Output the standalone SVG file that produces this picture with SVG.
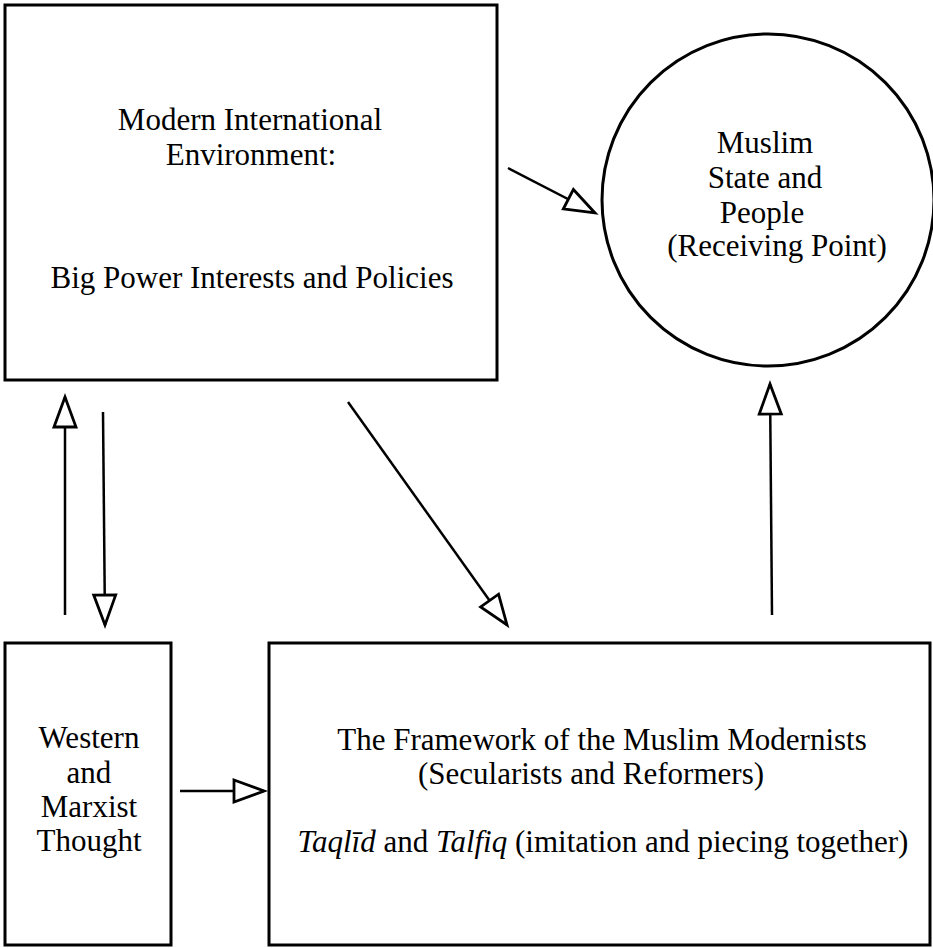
<svg xmlns="http://www.w3.org/2000/svg" width="933" height="948" viewBox="0 0 933 948">
<style>
.box{fill:none;stroke:#000;stroke-width:3}
.conn{fill:none;stroke:#000;stroke-width:2.5}
text{font-family:"Liberation Serif","Times New Roman",serif;font-size:31px;fill:#000;text-anchor:middle}
.it{font-style:italic}
</style>
<defs>
<marker id="open" markerUnits="userSpaceOnUse" markerWidth="36" markerHeight="30" viewBox="0 0 36 30" refX="33" refY="15" orient="auto" overflow="visible">
<path d="M3,4 L33,15 L3,26 Z" fill="#fff" stroke="#000" stroke-width="2.8" stroke-linejoin="miter"/>
</marker>
</defs>
<rect width="933" height="948" fill="#fff"/>
<g id="environment">
<rect class="box" x="5" y="5" width="492" height="375"/>
<text x="250" y="130">Modern International</text>
<text x="251" y="165">Environment:</text>
<text x="252" y="288">Big Power Interests and Policies</text>
</g>
<g id="muslim-state">
<circle class="box" cx="768" cy="200" r="166" stroke-width="2.5"/>
<text x="765" y="153">Muslim</text>
<text x="765" y="188">State and</text>
<text x="762" y="223">People</text>
<text x="777" y="256">(Receiving Point)</text>
</g>
<g id="western-thought">
<rect class="box" x="5" y="643" width="166" height="302"/>
<text x="89" y="748">Western</text>
<text x="89" y="783">and</text>
<text x="89" y="817">Marxist</text>
<text x="89" y="851">Thought</text>
</g>
<g id="modernists">
<rect class="box" x="269" y="643" width="661" height="302"/>
<text x="602" y="750">The Framework of the Muslim Modernists</text>
<text x="591" y="784">(Secularists and Reformers)</text>
<text x="603" y="852"><tspan class="it">Taqlīd</tspan> and <tspan class="it">Talfiq</tspan> (imitation and piecing together)</text>
</g>
<g id="connectors">
<line class="conn" x1="508" y1="168" x2="595" y2="213" marker-end="url(#open)"/>
<line class="conn" x1="65" y1="615" x2="65" y2="397" marker-end="url(#open)"/>
<line class="conn" x1="103" y1="412" x2="105" y2="625" marker-end="url(#open)"/>
<line class="conn" x1="348" y1="402" x2="507" y2="625" marker-end="url(#open)"/>
<line class="conn" x1="180" y1="791" x2="264" y2="791" marker-end="url(#open)"/>
<line class="conn" x1="772" y1="615" x2="770" y2="384" marker-end="url(#open)"/>
</g>
</svg>
